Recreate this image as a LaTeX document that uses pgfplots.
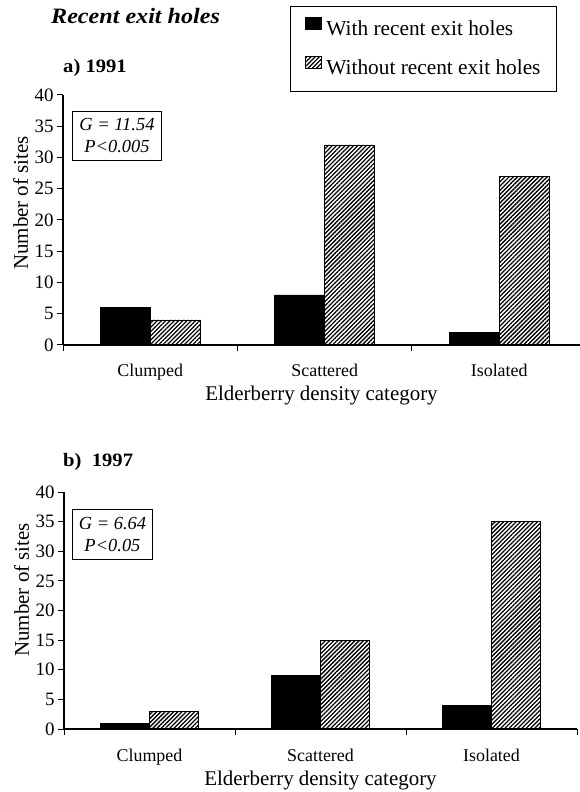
\documentclass[border=0pt]{standalone}
\usepackage{pgfplots}
\pgfplotsset{compat=1.18}
\usepackage{fontspec}
\setmainfont{Liberation Serif}
\usetikzlibrary{patterns.meta}
\pgfplotsset{
  mybars/.style={
    scale only axis,
    axis lines*=left,
    ymin=0, ymax=40, ytick={0,5,...,40},
    xtick={0,1,2}, xticklabels={Clumped,Scattered,Isolated},
    minor xtick={-0.5,0.5,1.5,2.5},
    major x tick style={draw=none},
    tick align=outside,
    major tick length=6bp, minor tick length=6bp,
    every tick/.style={black, line width=1bp},
    axis line style={line width=1.1bp},
    ybar, bar width=0.287,
    /pgf/number format/assume math mode=true,
    yticklabel style={font=\fontsize{19}{19}\selectfont},
    xticklabel style={font=\fontsize{18}{18}\selectfont, anchor=base, yshift=-26bp},
    xlabel={Elderberry density category},
    ylabel={Number of sites},
    label style={font=\fontsize{21}{21}\selectfont},
    xlabel style={at={(axis description cs:0.5,0)}, anchor=base, yshift=-56bp},
    ylabel style={inner sep=3bp},
    legend image code/.code={\draw[##1, line width=0.8bp] (0bp,1bp) rectangle (16bp,13bp); \path (19bp,0bp);},
  },
  withbar/.style={fill=black, draw=black, line width=0.8bp, bar shift=-0.1435},
  withoutbar/.style={draw=black, line width=0.8bp, pattern={Lines[angle=45,distance=3bp,line width=1.3bp]}, pattern color=black, bar shift=0.1435},
}
\begin{document}
\begin{tikzpicture}
\useasboundingbox (0,0) rectangle (580bp,792bp);
% top panel
\begin{axis}[mybars,
  at={(63bp,447bp)}, anchor=south west,
  width=517bp, height=250bp,
  xmin=-0.5, xmax=2.463,
  ylabel style={at={(ticklabel cs:0.568)}},
  legend style={at={(axis description cs:0.9555,1.356)}, anchor=north east,
    draw=black, line width=1bp, font=\fontsize{21.4}{21.4}\selectfont,
    inner xsep=14bp, inner ysep=10.5bp, row sep=14bp,
    nodes={inner sep=2bp, text height=15bp, text depth=4bp}},
  legend cell align=left,
]
\addplot[withbar] coordinates {(0,6) (1,8) (2,2)};
\addplot[withoutbar] coordinates {(0,4) (1,32) (2,27)};
\legend{With recent exit holes, Without recent exit holes}
\end{axis}
% bottom panel
\begin{axis}[mybars,
  at={(64bp,63bp)}, anchor=south west,
  width=513bp, height=237bp,
  xmin=-0.5, xmax=2.5,
  ylabel style={at={(ticklabel cs:0.587)}},
]
\addplot[withbar] coordinates {(0,1) (1,9) (2,4)};
\addplot[withoutbar] coordinates {(0,3) (1,15) (2,35)};
\end{axis}
% titles
\node[anchor=base west, inner sep=0pt] at (51bp,768bp)
  {\scalebox{1.1}[1]{\fontsize{22}{22}\selectfont\bfseries\itshape Recent exit holes}};
\node[anchor=base west, inner sep=0pt] at (63bp,719bp)
  {\scalebox{1.09}[1]{\fontsize{19}{19}\selectfont\bfseries a) 1991}};
\node[anchor=base west, inner sep=0pt] at (63bp,325bp)
  {\scalebox{1.09}[1]{\fontsize{19}{19}\selectfont\bfseries b)\ \ 1997}};
% statistics boxes
\node[draw=black, line width=0.9bp, anchor=north west, align=center,
  minimum width=89bp, minimum height=49bp, inner sep=1bp,
  font=\fontsize{18.5}{22}\selectfont\itshape] at (72bp,681bp)
  {G = 11.54\\P<0.005};
\node[draw=black, line width=0.9bp, anchor=north west, align=center,
  minimum width=80bp, minimum height=50bp, inner sep=1bp,
  font=\fontsize{18.5}{22}\selectfont\itshape] at (72bp,283bp)
  {G = 6.64\\P<0.05};
\end{tikzpicture}
\end{document}
